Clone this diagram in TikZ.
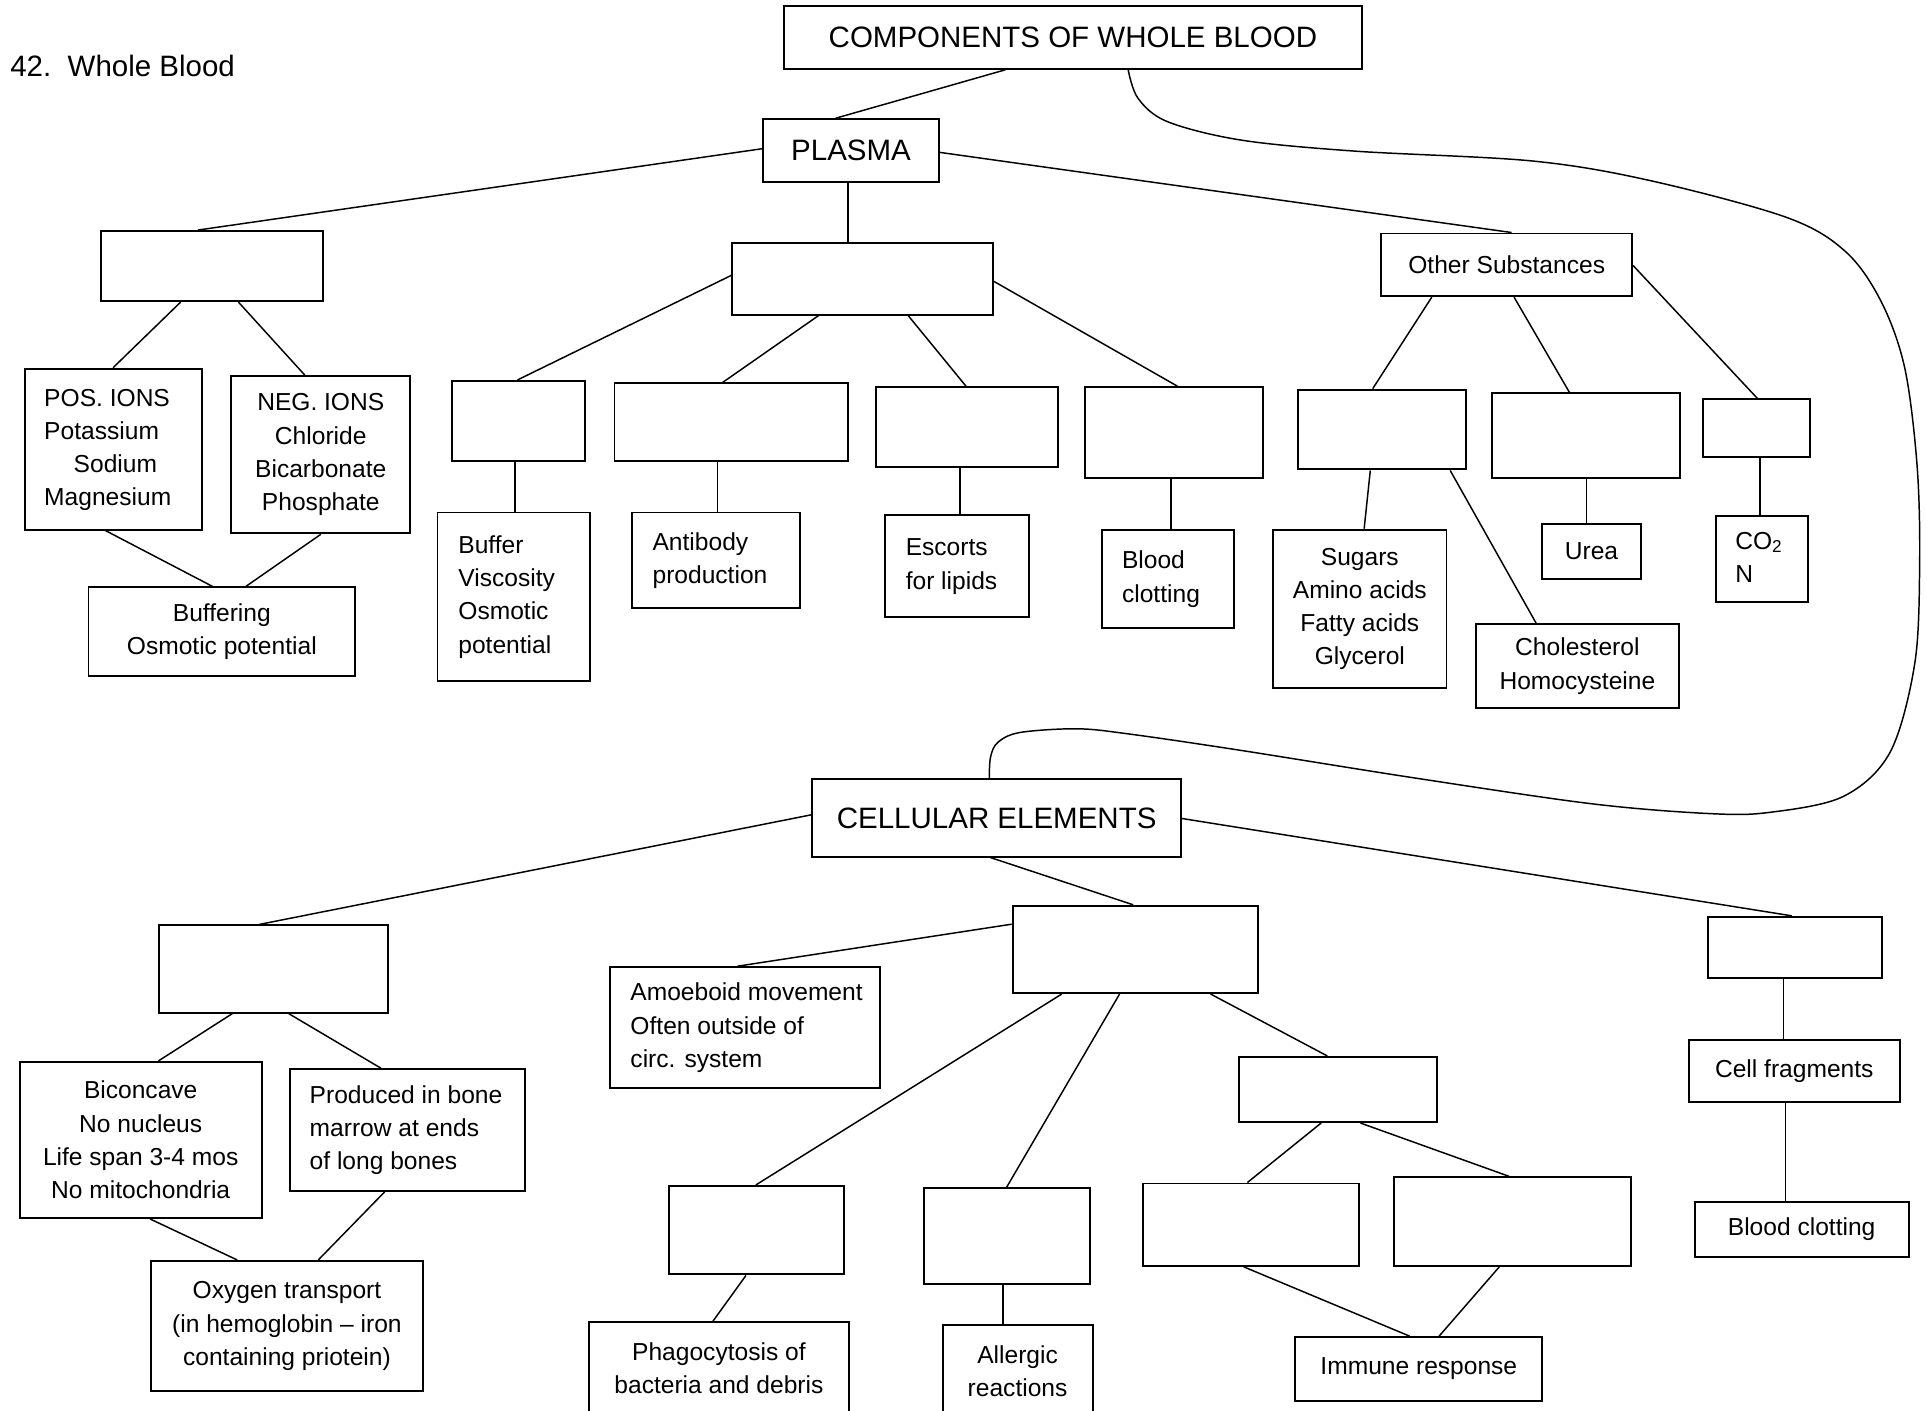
\documentclass[tikz,border=0pt]{standalone}
\usepackage{fontspec}
\setmainfont{Liberation Sans}
\tikzset{
  box/.style={draw, line width=0.8pt, inner sep=0pt, align=center,
    font=\fontsize{10}{13.5}\selectfont},
  bigbox/.style={box, font=\fontsize{12}{14}\selectfont},
  link/.style={line width=0.6pt},
}
% box from corners (x1,y1)-(x2,y2), text centred
\newcommand\bx[7][]{%
  \pgfmathsetmacro\bxcx{(#3+#5)/2}%
  \pgfmathsetmacro\bxcy{(#4+#6)/2}%
  \pgfmathsetmacro\bxw{(#5-#3)*0.5}%
  \pgfmathsetmacro\bxh{(#6-#4)*0.5}%
  \node[box,minimum width=\bxw pt,minimum height=\bxh pt,#1] (#2) at (\bxcx,\bxcy) {#7};}
% box with left-aligned text, #7 = left padding
\newcommand\lbx[8][]{%
  \pgfmathsetmacro\bxcx{(#3+#5)/2}%
  \pgfmathsetmacro\bxcy{(#4+#6)/2}%
  \pgfmathsetmacro\bxw{(#5-#3)*0.5}%
  \pgfmathsetmacro\bxh{(#6-#4)*0.5}%
  \pgfmathsetmacro\bxtw{(#5-#3-2*#7)*0.5}%
  \node[box,minimum width=\bxw pt,minimum height=\bxh pt,#1] (#2) at (\bxcx,\bxcy)
    {\makebox[\bxtw pt][l]{\begin{tabular}{@{}l@{}}#8\end{tabular}}};}
\begin{document}
\begin{tikzpicture}[x=0.5pt,y=-0.5pt]
\fill[white] (0,0) rectangle (1568,1148);
\useasboundingbox (0,0) rectangle (1568,1148);

\node[anchor=west,inner sep=0pt,font=\fontsize{12}{14}\selectfont] (title) at (8,54) {42.\ \ Whole Blood};

% ---------- plasma part ----------
\bx[bigbox]{comp}{638}{5}{1108}{56}{COMPONENTS OF WHOLE BLOOD}
\bx[bigbox]{plasma}{621}{97}{764}{148}{PLASMA}
\bx{p1}{82}{188}{263}{245}{}
\bx{p2}{596}{198}{808}{256}{}
\bx{other}{1124}{190}{1328}{241}{Other Substances}
\lbx{pos}{20}{300}{164}{431}{16}{POS. IONS\\Potassium\\\hspace*{12pt}Sodium\\Magnesium}
\bx{neg}{188}{306}{334}{434}{NEG. IONS\\Chloride\\Bicarbonate\\Phosphate}
\bx{buf}{72}{478}{289}{550}{Buffering\\Osmotic potential}
\bx{q1}{368}{310}{476}{375}{}
\bx{q2}{500}{312}{690}{375}{}
\bx{q3}{713}{315}{861}{380}{}
\bx{q4}{883}{315}{1028}{389}{}
\bx{q5}{1056}{317}{1193}{382}{}
\bx{q6}{1214}{320}{1367}{389}{}
\bx{q7}{1386}{325}{1473}{372}{}
\lbx{bufv}{356}{417}{480}{554}{17}{Buffer\\Viscosity\\Osmotic\\potential}
\lbx{anti}{514}{417}{651}{495}{17}{Antibody\\production}
\lbx{esc}{720}{419}{837}{502}{17}{Escorts\\for lipids}
\lbx{clot}{897}{431}{1004}{511}{16}{Blood\\clotting}
\bx{sug}{1036}{431}{1177}{560}{Sugars\\Amino acids\\Fatty acids\\Glycerol}
\bx{chol}{1201}{508}{1366}{576}{Cholesterol\\Homocysteine}
\bx{urea}{1255}{426}{1335}{471}{Urea}
\lbx{co2}{1396}{420}{1471}{490}{16}{CO\textsubscript{2}\\N}

% ---------- cellular part ----------
\bx[bigbox]{cell}{661}{634}{961}{697}{CELLULAR ELEMENTS}
\bx{c1}{129}{753}{316}{824}{}
\bx{c2}{824}{737}{1024}{808}{}
\bx{c3}{1390}{746}{1531}{796}{}
\lbx{amo}{496}{787}{716}{885}{17}{Amoeboid movement\\Often outside of\\circ. system}
\bx{bic}{16}{864}{213}{991}{Biconcave\\No nucleus\\Life span 3-4 mos\\No mitochondria}
\lbx{prod}{236}{870}{427}{969}{16}{Produced in bone\\marrow at ends\\of long bones}
\bx{oxy}{123}{1026}{344}{1132}{Oxygen transport\\(in hemoglobin -- iron\\containing priotein)}
\bx{d1}{544}{965}{687}{1037}{}
\bx{d2}{752}{967}{887}{1045}{}
\bx{d3}{1008}{860}{1169}{913}{}
\bx{d4}{930}{963}{1106}{1030}{}
\bx{d5}{1134}{958}{1327}{1030}{}
\bx{phago}{479}{1076}{691}{1151}{Phagocytosis of\\bacteria and debris}
\bx{aller}{767}{1078}{889}{1153}{Allergic\\reactions}
\bx{imm}{1054}{1088}{1255}{1140}{Immune response}
\bx{frag}{1374}{846}{1546}{897}{Cell fragments}
\bx{bclot}{1379}{978}{1553}{1023}{Blood clotting}

% ---------- connectors ----------
\begin{scope}[link]
\draw (comp.south -| 818,0) -- (plasma.north -| 680,0);
\draw (plasma.west |- 0,121) -- (p1.north -| 161,0);
\draw (plasma.south -| 690,0) -- (p2.north -| 690,0);
\draw (plasma.east |- 0,124) -- (other.north -| 1230,0);
\draw plot[smooth,tension=0.55] coordinates {(comp.south -| 918,0) (926,80) (950,99) (1010,114)
  (1103,123) (1247,131) (1343,147) (1454,177) (1502,205) (1531,246) (1550,300) (1560,380)
  (1562,460) (1558,540) (1538,612) (1500,648) (1440,661) (1391,662) (1295,654) (1151,633)
  (1006,610) (917,597) (876,593) (830,596) (812,604) (806,616) (cell.north -| 805,0)};
\draw (p1.south -| 147,0) -- (pos.north -| 92,0);
\draw (p1.south -| 194,0) -- (neg.north -| 248,0);
\draw (pos.south -| 86,0) -- (buf.north -| 173,0);
\draw (neg.south -| 261,0) -- (buf.north -| 200,0);
\draw (p2.west |- 0,224) -- (q1.north -| 421,0);
\draw (p2.south -| 666,0) -- (q2.north -| 588,0);
\draw (p2.south -| 739,0) -- (q3.north -| 786,0);
\draw (p2.east |- 0,229) -- (q4.north -| 958,0);
\draw (q1.south -| 419,0) -- (bufv.north -| 419,0);
\draw (q2.south -| 584,0) -- (anti.north -| 584,0);
\draw (q3.south -| 781,0) -- (esc.north -| 781,0);
\draw (q4.south -| 953,0) -- (clot.north -| 953,0);
\draw (other.south -| 1165,0) -- (q5.north -| 1117,0);
\draw (other.south -| 1232,0) -- (q6.north -| 1277,0);
\draw (other.east |- 0,216) -- (q7.north -| 1430,0);
\draw (q5.south -| 1115,0) -- (sug.north -| 1110,0);
\draw (q5.south -| 1180,0) -- (chol.north -| 1250,0);
\draw (q6.south -| 1291,0) -- (urea.north -| 1291,0);
\draw (q7.south -| 1432,0) -- (co2.north -| 1432,0);
\draw (cell.west |- 0,663) -- (c1.north -| 211,0);
\draw (cell.south -| 806,0) -- (c2.north -| 922,0);
\draw (cell.east |- 0,666) -- (c3.north -| 1458,0);
\draw (c2.west |- 0,752) -- (amo.north -| 600,0);
\draw (c2.south -| 864,0) -- (d1.north -| 615,0);
\draw (c2.south -| 911,0) -- (d2.north -| 819,0);
\draw (c2.south -| 985,0) -- (d3.north -| 1080,0);
\draw (c1.south -| 189,0) -- (bic.north -| 129,0);
\draw (c1.south -| 235,0) -- (prod.north -| 310,0);
\draw (bic.south -| 122,0) -- (oxy.north -| 193,0);
\draw (prod.south -| 313,0) -- (oxy.north -| 259,0);
\draw (d1.south -| 607,0) -- (phago.north -| 580,0);
\draw (d2.south -| 816,0) -- (aller.north -| 816,0);
\draw (d3.south -| 1075,0) -- (d4.north -| 1015,0);
\draw (d3.south -| 1107,0) -- (d5.north -| 1228,0);
\draw (d4.south -| 1012,0) -- (imm.north -| 1147,0);
\draw (d5.south -| 1220,0) -- (imm.north -| 1171,0);
\draw (c3.south -| 1451,0) -- (frag.north -| 1451,0);
\draw (frag.south -| 1453,0) -- (bclot.north -| 1453,0);
\end{scope}
\end{tikzpicture}
\end{document}
